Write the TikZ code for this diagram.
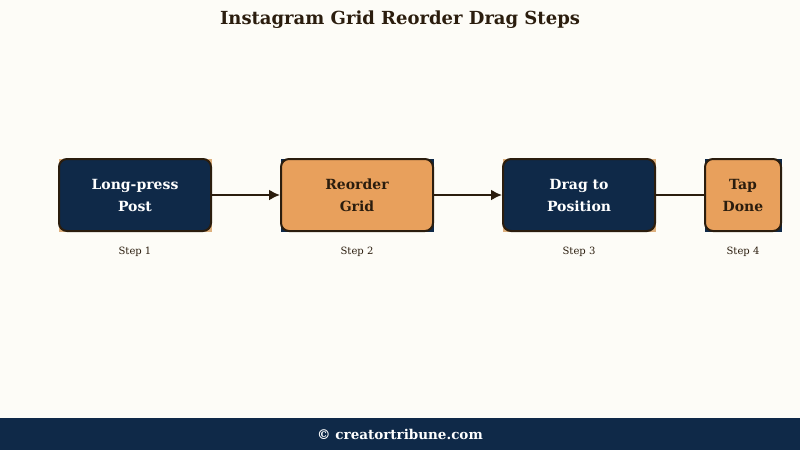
\documentclass[tikz,border=0pt]{standalone}
\usepackage{fontspec}
\setmainfont{DejaVu Serif}
\usetikzlibrary{positioning,arrows.meta}
\definecolor{cream}{HTML}{FDFCF7}
\definecolor{navy}{HTML}{0F2948}
\definecolor{amber}{HTML}{E8A05C}
\definecolor{tan}{HTML}{DDB07E}
\definecolor{ink}{HTML}{2B1D0E}
\begin{document}
\begin{tikzpicture}[
  x=1pt,y=-1pt,
  >=Latex,
  stepbox/.style={draw=ink,line width=2pt,rounded corners=8pt,
    minimum width=152pt,minimum height=72pt,align=center,inner sep=0pt,
    font=\bfseries\fontsize{14}{22}\selectfont,
    execute at begin node={\rule{0pt}{19pt}}},
  darkbox/.style={stepbox,fill=navy,text=white},
  lightbox/.style={stepbox,fill=amber,text=ink},
  backing/.style={minimum width=152pt,minimum height=72pt,inner sep=0pt,
    line width=0.6pt},
  steplabel/.style={font=\fontsize{10}{12}\selectfont,text=ink},
  flow/.style={-{Latex[length=11pt,width=11pt]},draw=ink,line width=2pt},
  link/.style={draw=ink,line width=2pt}
]
% 背景と帯
\useasboundingbox (0,0) rectangle (800,450);
\fill[cream] (0,0) rectangle (800,450);
\fill[navy] (0,418) rectangle (800,450);
\node[text=ink,font=\bfseries\fontsize{18}{22}\selectfont] (title) at (400,20)
  {Instagram Grid Reorder Drag Steps};
\node[text=white,font=\bfseries\fontsize{13.5}{16}\selectfont] (footer) at (400,434)
  {© creatortribune.com};

% 下敷きの四角
\node[backing,fill=tan,draw=tan] (b1) at (135,195) {};
\node[backing,fill=navy,draw=navy] (b2) at (357,195) {};
\node[backing,fill=tan,draw=tan] (b3) at (579,195) {};
\node[backing,fill=navy,draw=navy,minimum width=76pt] (b4) at (743,195) {};

% 手順の箱
\node[darkbox] (s1) at (135,195) {Long-press\\Post};
\node[lightbox] (s2) at (357,195) {Reorder\\Grid};
\node[darkbox] (s3) at (579,195) {Drag to\\Position};
\node[lightbox,minimum width=76pt] (s4) at (743,195) {Tap\\Done};

% 番号
\node[steplabel] (l1) at (135,252) {Step 1};
\node[steplabel] (l2) at (357,252) {Step 2};
\node[steplabel] (l3) at (579,252) {Step 3};
\node[steplabel] (l4) at (743,252) {Step 4};

% 矢印
\draw[flow] (s1) -- (s2);
\draw[flow] (s2) -- (s3);
\draw[link] (s3) -- (s4);
\end{tikzpicture}
\end{document}
